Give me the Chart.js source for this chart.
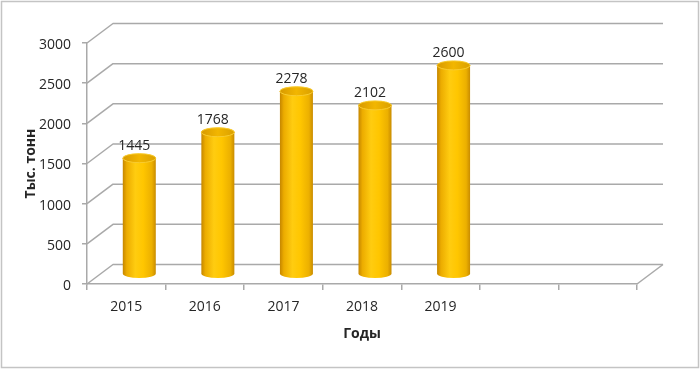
<!DOCTYPE html>
<html>
<head>
<meta charset="utf-8">
<script src="https://cdn.jsdelivr.net/npm/chart.js@4.4.1/dist/chart.umd.min.js"></script>
<style>
html,body{margin:0;padding:0;background:#fff;overflow:hidden}
#wrap{width:700px;height:369px;position:relative}
</style>
</head>
<body>
<div id="wrap"><canvas id="c" width="700" height="369"></canvas></div>
<script>
const categories = ['2015', '2016', '2017', '2018', '2019', '', ''];
const production = [1445, 1768, 2278, 2102, 2600, null, null];
const yTickValues = [0, 500, 1000, 1500, 2000, 2500, 3000];
const yTitle = 'Тыс. тонн';
const xTitle = 'Годы';

const DX = 26, DY = -19.5;          // depth of back wall
const GRID = '#a9a9a9';
const FONT = '"Open Sans", "Liberation Sans", sans-serif';

const threeD = {
  id: 'threeD',
  beforeDraw(chart) {
    const ctx = chart.ctx;
    ctx.save();
    ctx.fillStyle = '#fff';
    ctx.fillRect(0, 0, chart.width, chart.height);
    ctx.strokeStyle = '#c4c4c4';
    ctx.lineWidth = 1.5;
    ctx.strokeRect(1.5, 1.5, chart.width - 3, chart.height - 3);
    ctx.restore();
  },
  beforeDatasetsDraw(chart) {
    const ctx = chart.ctx, ys = chart.scales.y, a = chart.chartArea;
    ctx.save();
    ctx.strokeStyle = GRID;
    ctx.lineWidth = 1.5;
    ctx.lineJoin = 'round';
    ys.ticks.forEach(t => {
      const y = ys.getPixelForValue(t.value);
      ctx.beginPath();
      ctx.moveTo(a.left, y);
      ctx.lineTo(a.left + DX, y + DY);
      ctx.lineTo(a.right + DX, y + DY);
      ctx.stroke();
    });
    ctx.beginPath();
    ctx.moveTo(a.right, a.bottom);
    ctx.lineTo(a.right + DX, a.bottom + DY);
    ctx.stroke();
    ctx.restore();
  },
  afterDatasetsDraw(chart) {
    const ctx = chart.ctx;
    const meta = chart.getDatasetMeta(0);
    ctx.save();
    meta.data.forEach((bar, i) => {
      const v = chart.data.datasets[0].data[i];
      if (v == null) return;
      const p = bar.getProps(['x', 'y', 'base', 'width'], true);
      const cx = p.x + DX / 2, top = p.y + DY / 2, base = p.base + DY / 2;
      const rx = p.width / 2, ry = 4.5;
      const g = ctx.createLinearGradient(cx - rx, 0, cx + rx, 0);
      g.addColorStop(0, '#c58600');
      g.addColorStop(0.12, '#ecac00');
      g.addColorStop(0.38, '#ffcc10');
      g.addColorStop(0.62, '#ffc600');
      g.addColorStop(0.88, '#ecb000');
      g.addColorStop(1, '#c98c00');
      ctx.beginPath();
      ctx.moveTo(cx - rx, top);
      ctx.lineTo(cx - rx, base);
      ctx.ellipse(cx, base, rx, ry, 0, Math.PI, 0, true);
      ctx.lineTo(cx + rx, top);
      ctx.ellipse(cx, top, rx, ry, 0, 0, Math.PI, true);
      ctx.closePath();
      ctx.fillStyle = g;
      ctx.fill();
      const g2 = ctx.createLinearGradient(cx - rx, 0, cx + rx, 0);
      g2.addColorStop(0, '#d89a00');
      g2.addColorStop(0.5, '#f2b600');
      g2.addColorStop(1, '#daa000');
      ctx.beginPath();
      ctx.ellipse(cx, top, rx, ry, 0, 0, Math.PI * 2);
      ctx.fillStyle = g2;
      ctx.fill();
      ctx.strokeStyle = '#f9cc30';
      ctx.lineWidth = 1;
      ctx.stroke();
      ctx.fillStyle = '#262626';
      ctx.font = '14px ' + FONT;
      ctx.textAlign = 'center';
      ctx.textBaseline = 'middle';
      ctx.fillText(String(v), cx - 5, top - 12);
    });
    ctx.restore();
  }
};

new Chart(document.getElementById('c'), {
  type: 'bar',
  data: {
    labels: categories,
    datasets: [{
      data: production,
      backgroundColor: 'rgba(0,0,0,0)',
      borderWidth: 0,
      categoryPercentage: 1,
      barPercentage: 0.42
    }]
  },
  options: {
    responsive: false,
    animation: false,
    devicePixelRatio: 1,
    layout: { padding: { left: 0, top: 43, right: 63, bottom: 0 } },
    plugins: { legend: { display: false }, tooltip: { enabled: false } },
    scales: {
      x: {
        afterFit(s) { s.height = 85; },
        grid: { display: true, drawOnChartArea: false, drawTicks: true, tickLength: 6, color: GRID, lineWidth: 1.5 },
        border: { display: true, color: GRID, width: 1.5 },
        ticks: { padding: 9, color: '#262626', font: { family: FONT, size: 14 } },
        title: { display: true, text: xTitle, color: '#262626', padding: { top: 0, bottom: 27 },
                 font: { family: FONT, size: 14, weight: 'bold' } }
      },
      y: {
        min: 0, max: 3000,
        afterFit(s) { s.width = 87; },
        afterBuildTicks(s) { s.ticks = yTickValues.map(v => ({ value: v })); },
        grid: { display: true, drawOnChartArea: false, drawTicks: true, tickLength: 5, color: GRID, lineWidth: 1.5 },
        border: { display: true, color: GRID, width: 1.5 },
        ticks: { padding: 11, labelOffset: 2, color: '#262626', font: { family: FONT, size: 14 },
                 callback: v => String(v) },
        title: { display: true, text: yTitle, color: '#262626', padding: { top: 23, bottom: 0 },
                 font: { family: FONT, size: 14, weight: 'bold' } }
      }
    }
  },
  plugins: [threeD]
});
</script>
</body>
</html>
